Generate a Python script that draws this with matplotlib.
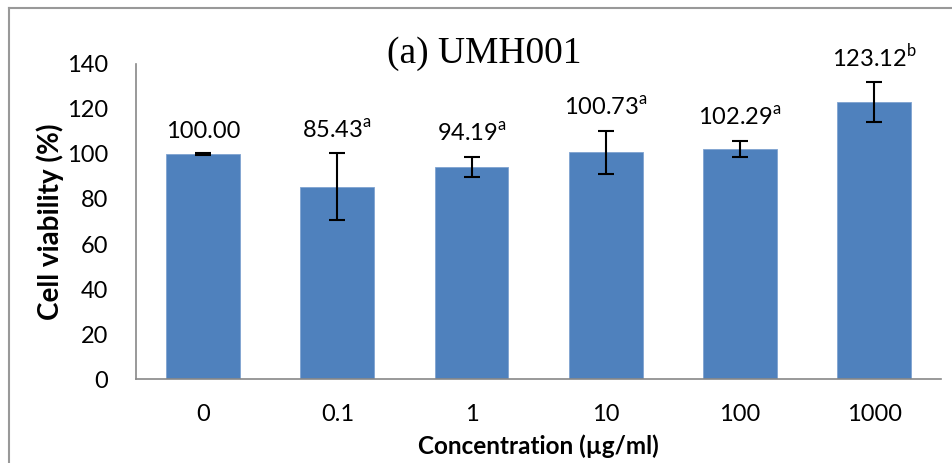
import numpy as np
import matplotlib
matplotlib.use('Agg')
import matplotlib.pyplot as plt
from matplotlib.lines import Line2D

# cell viability of UMH001 at each concentration
concentrations = ['0', '0.1', '1', '10', '100', '1000']
viability = [100.00, 85.43, 94.19, 100.73, 102.29, 123.12]
errors = [0.3, 14.9, 4.5, 9.6, 3.6, 9.0]
letters = ['', 'a', 'a', 'a', 'a', 'b']

plt.rcParams['font.family'] = ['Lato', 'DejaVu Sans']
plt.rcParams['mathtext.fontset'] = 'custom'
plt.rcParams['mathtext.rm'] = 'Lato'

fig = plt.figure(figsize=(9.53, 4.63), dpi=100)
ax = fig.add_axes([0.1427, 0.1814, 0.845, 0.6804])

x = np.arange(len(concentrations))
ax.bar(x, viability, width=0.55, color='#4F81BD', edgecolor='#7FA3D0', linewidth=0.6,
       yerr=errors, error_kw=dict(ecolor='black', elinewidth=1.5, capsize=6, capthick=1.5))

# value labels above the error bars
for xi, v, e, l in zip(x, viability, errors, letters):
    txt = f'{v:.2f}'
    if l:
        txt += r'$^{\mathrm{' + l + '}}$'
    ax.annotate(txt, (xi, v + e), xytext=(0, 8), textcoords='offset points',
                ha='center', va='bottom', fontsize=17)

ax.set_xlim(-0.5, len(concentrations) - 0.5)
ax.set_ylim(0, 140)
ax.set_yticks(range(0, 141, 20))
ax.set_xticks(x)
ax.set_xticklabels(concentrations)
ax.tick_params(length=0, labelsize=17)
ax.tick_params(axis='x', pad=18)
ax.tick_params(axis='y', pad=20)
for s in ['top', 'right']:
    ax.spines[s].set_visible(False)
for s in ['left', 'bottom']:
    ax.spines[s].set_color('#888888')
    ax.spines[s].set_linewidth(1.2)

ax.set_xlabel('Concentration (µg/ml)', fontsize=17.5, fontweight='bold', labelpad=7)
ax.set_ylabel('Cell viability (%)', fontsize=20, fontweight='bold', labelpad=2)

fig.text(0.508, 0.885, '(a) UMH001', ha='center', va='center', fontsize=27,
         family='Liberation Serif')

# chart border (left and top edges visible)
fig.add_artist(Line2D([0.0095, 0.0095], [0, 0.983], color='#999999', lw=1.5))
fig.add_artist(Line2D([0.0095, 1.0], [0.983, 0.983], color='#999999', lw=1.5))

fig.savefig('out.png', dpi=100)
